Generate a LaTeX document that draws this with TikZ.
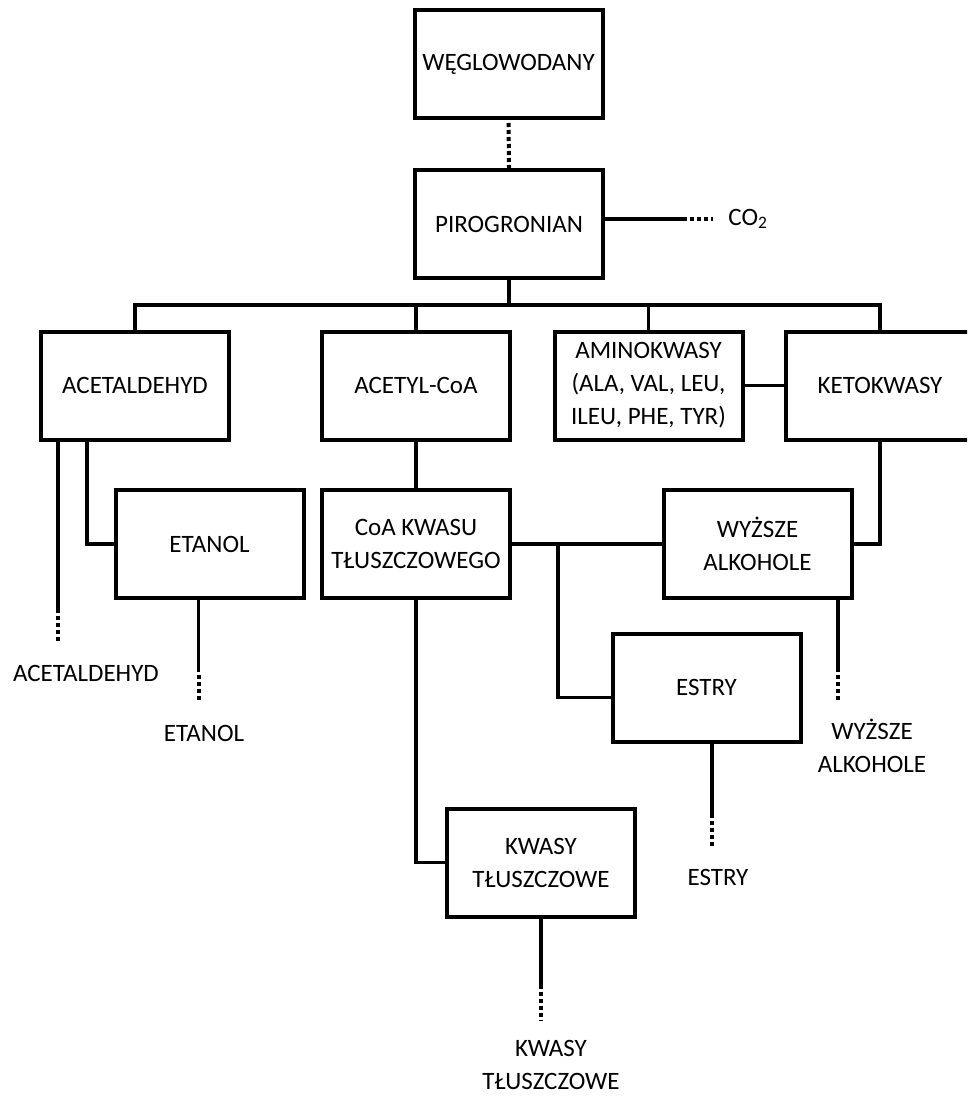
\documentclass[tikz,border=0pt]{standalone}
\usepackage{fontspec}
\setmainfont{Carlito}
\usetikzlibrary{calc}
\newcommand{\lblfont}{\fontsize{25}{33}\selectfont}
\begin{document}
\begin{tikzpicture}[x=1pt,y=-1pt,
  box/.style={draw, line width=4pt, minimum width=188pt, minimum height=108pt,
    inner sep=0pt, align=center, font=\lblfont},
  conn/.style={line width=3.5pt},
  dots/.style={line width=4pt, dash pattern=on 4pt off 3pt, dash phase=4pt},
  lbl/.style={inner sep=0pt, align=center, font=\lblfont}]
\useasboundingbox (0,0) rectangle (967,1097);
\clip (0,0) rectangle (967,1097);

% boxes
\node[box] (weg)   at (508.5,64)   {WĘGLOWODANY};
\node[box] (piro)  at (509,224)    {PIROGRONIAN};
\node[box] (acet)  at (135,385.5)  {ACETALDEHYD};
\node[box] (acoa)  at (416,385.5)  {ACETYL-CoA};
\node[box] (amino) at (648.5,385.5){AMINOKWASY\\(ALA, VAL, LEU,\\ILEU, PHE, TYR)};
\node[box] (keto)  at (880,385.5)  {KETOKWASY};
\node[box] (etanol) at (209.5,544) {ETANOL};
\node[box] (coakw) at (416,544)    {CoA KWASU\\TŁUSZCZOWEGO};
\node[box] (wyz)   at (757.5,544)  {WYŻSZE\\ALKOHOLE};
\node[box] (estry) at (706.5,687.5){ESTRY};
\node[box] (kwasy) at (541,862.5)  {KWASY\\TŁUSZCZOWE};

% end products
\node[lbl] (co2)    at (748,219)  {CO\textsubscript{2}};
\node[lbl] (acetL)  at (86,673)   {ACETALDEHYD};
\node[lbl] (etanL)  at (204,733)  {ETANOL};
\node[lbl] (wyzL)   at (872,746)  {WYŻSZE\\ALKOHOLE};
\node[lbl] (estrL)  at (718,877)  {ESTRY};
\node[lbl] (kwasL)  at (551,1065) {KWASY\\TŁUSZCZOWE};

% glycolysis
\draw[dots] (weg.south) -- (piro.north);

% distribution bus below pyruvate
\coordinate (busy) at (0,305);
\draw[conn] (piro.south) -- (piro.south |- busy);
\draw[conn] (acet.north) |- (busy -| keto.north) -- (keto.north);
\draw[conn] (acoa.north) -- (acoa.north |- busy);
\draw[conn] (amino.north) -- (amino.north |- busy);

% CO2 release
\coordinate (co2b) at ([xshift=-15pt]co2.west);
\draw[conn] (piro.east |- co2) -- ++(82,0) coordinate (co2a);
\draw[dots] (co2a) -- (co2b);

% second level
\draw[conn] (amino.east) -- (keto.west);
\draw[conn] ([xshift=48pt]acet.south west) |- (etanol.west);
\draw[conn] (acoa.south) -- (coakw.north);
\draw[conn] (coakw.east) -- (wyz.west);
\draw[conn] (keto.south) |- (wyz.east);
\coordinate (jx) at (558,0);
\draw[conn] (jx |- coakw.east) |- ([yshift=-10pt]estry.west);
\draw[conn] (coakw.south) |- (kwasy.west);

% outflows to the products
\path ([xshift=19pt]acet.south west) ++(0,171) coordinate (acS) ++(0,30) coordinate (acD);
\draw[conn] ([xshift=19pt]acet.south west) -- (acS);
\draw[dots] (acS) -- (acD);

\path ([xshift=-11pt]etanol.south) ++(0,72) coordinate (etS) ++(0,28) coordinate (etD);
\draw[conn] ([xshift=-11pt]etanol.south) -- (etS);
\draw[dots] (etS) -- (etD);

\path ([xshift=80.5pt]wyz.south) ++(0,72) coordinate (wyS) ++(0,30) coordinate (wyD);
\draw[conn] ([xshift=80.5pt]wyz.south) -- (wyS);
\draw[dots] (wyS) -- (wyD);

\path ([xshift=5.5pt]estry.south) ++(0,74) coordinate (esS) ++(0,28) coordinate (esD);
\draw[conn] ([xshift=5.5pt]estry.south) -- (esS);
\draw[dots] (esS) -- (esD);

\path (kwasy.south) ++(0,70) coordinate (kwS) ++(0,32) coordinate (kwD);
\draw[conn] (kwasy.south) -- (kwS);
\draw[dots] (kwS) -- (kwD);
\end{tikzpicture}
\end{document}
